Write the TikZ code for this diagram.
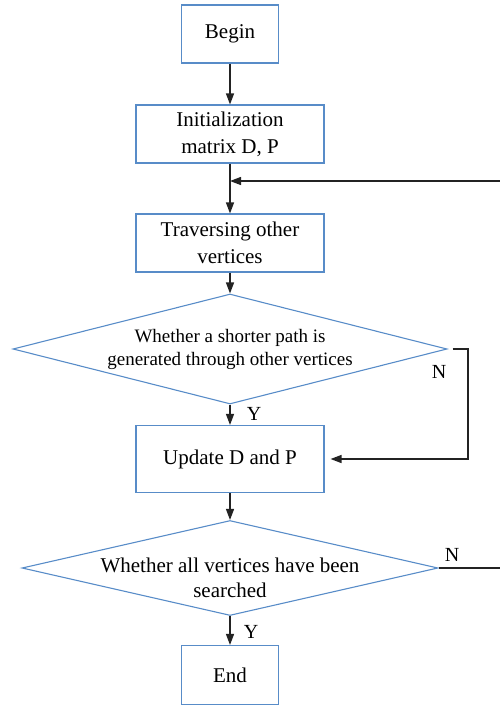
\documentclass[tikz,border=0pt]{standalone}
\usepackage{fontspec}
\setmainfont{Liberation Serif}
\usepackage{tikz}
\usetikzlibrary{arrows.meta,shapes.geometric,calc}

\definecolor{boxblue}{RGB}{88,140,200}
\definecolor{linegray}{RGB}{35,35,35}

\tikzset{
  procbox/.style={draw=boxblue, line width=1.1pt, rectangle, align=center,
    font=\fontsize{21}{27}\selectfont, inner sep=0pt},
  testbox/.style={draw=boxblue, line width=1.1pt, diamond, align=center,
    inner sep=0pt},
  flow/.style={draw=linegray, line width=1.3pt,
    -{Triangle[length=11pt,width=8pt]}},
  tag/.style={font=\fontsize{20}{24}\selectfont, inner sep=0pt}
}

\begin{document}
\begin{tikzpicture}[x=1pt,y=-1pt]
  % Layout positions (page pixels, y downwards)
  \def\xmid{230}    % main column
  \def\xloop{468}   % N branch of first test
  \def\xback{503}   % return line, just off the page
  \def\yjoin{181}   % return line meets the column

  \useasboundingbox (0,0) rectangle (500,705);

  % Process boxes
  \node[procbox, minimum width=97pt, minimum height=58pt] (begin)
    at (\xmid,34) {Begin};
  \node[procbox, minimum width=188pt, minimum height=58pt] (init)
    at (\xmid,134) {Initialization\\matrix D, P};
  \node[procbox, minimum width=188pt, minimum height=58pt] (trav)
    at (\xmid,243) {Traversing other\\vertices};
  \node[procbox, minimum width=188pt, minimum height=67pt] (update)
    at (\xmid,459) {Update D and P};
  \node[procbox, minimum width=97pt, minimum height=59pt] (end)
    at (\xmid,675) {End};

  % Tests
  \node[testbox, minimum width=434pt, minimum height=110pt, shape aspect=3.95,
    font=\fontsize{19}{23}\selectfont] (short)
    at (\xmid,349) {Whether a shorter path is\\generated through other vertices};
  \node[testbox, minimum width=416pt, minimum height=95pt, shape aspect=4.38,
    inner xsep=-20pt, font=\fontsize{21}{25}\selectfont] (check)
    at (\xmid,568) {\raisebox{-17.5pt}[0pt][0pt]{\begin{tabular}{@{}c@{}}
      Whether all vertices have been\\searched\end{tabular}}};

  % Branch labels
  \node[tag] (yshort) at (254,414) {Y};
  \node[tag] (nshort) at (439,372) {N};
  \node[tag] (ycheck) at (251,632) {Y};
  \node[tag] (ncheck) at (452,555) {N};

  % Main flow
  \coordinate (join) at (init.south |- 0,\yjoin);
  \draw[flow] (begin) -- (init);
  \draw[flow] (init) -- (trav);
  \draw[flow] (trav) -- (short);
  \draw[flow] (short) -- (update);
  \draw[flow] (update) -- (check);
  \draw[flow] (check) -- (end);

  % Loops
  \draw[flow, shorten <=5pt, shorten >=6pt] (short.east)
    -- (short.east -| \xloop,0) -- (update.east -| \xloop,0) -- (update.east);
  \draw[flow] (check.east) -- (check.east -| \xback,0)
    -- (\xback,\yjoin) -- (join);
\end{tikzpicture}
\end{document}
